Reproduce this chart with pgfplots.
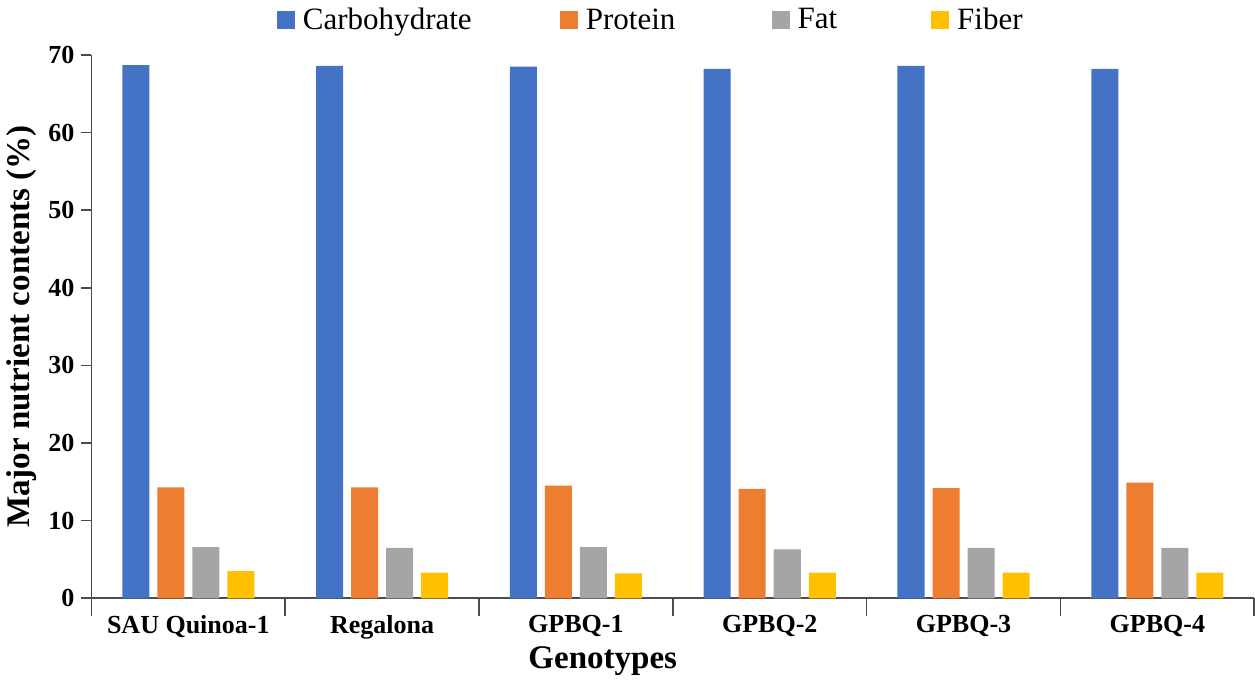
\documentclass[border=0pt]{standalone}
\usepackage{fontspec}
\setmainfont{Liberation Serif}
\usepackage{pgfplots}
\pgfplotsset{compat=1.18}
\definecolor{cCarb}{HTML}{4472C4}
\definecolor{cProt}{HTML}{ED7D31}
\definecolor{cFat}{HTML}{A5A5A5}
\definecolor{cFib}{HTML}{FFC000}
\begin{document}
\begin{tikzpicture}
\begin{axis}[
  scale only axis,
  width=581pt, height=271.5pt,
  ybar=4pt, bar width=13.5pt,
  axis x line=bottom, axis y line=left,
  axis line style={-, black!70, line width=0.8pt},
  xmin=0.5, xmax=6.5,
  ymin=0, ymax=70,
  ytick={0,10,...,70},
  xtick={1,...,6},
  xticklabels={SAU Quinoa-1,Regalona,GPBQ-1,GPBQ-2,GPBQ-3,GPBQ-4},
  minor xtick={0.5,1.5,...,6.5},
  major x tick style={draw=none},
  minor x tick style={black!70, line width=0.8pt},
  minor tick length=9pt,
  y tick style={black!70, line width=0.8pt},
  major tick length=5pt,
  tick align=outside,
  /pgf/number format/assume math mode=true,
  ticklabel style={font=\rmfamily\fontsize{13}{14}\selectfont\bfseries},
  xlabel={Genotypes},
  ylabel={Major nutrient contents (\%)},
  label style={font=\rmfamily\fontsize{16.5}{17}\selectfont\bfseries},
  xlabel style={yshift=3pt, xshift=-35pt},
  ylabel style={yshift=-1pt},
  legend columns=4,
  legend style={at={(0.5,1)}, anchor=south, yshift=7pt, xshift=-10.5pt, draw=none,
    font=\rmfamily\fontsize{15.5}{17}\selectfont},
  legend image code/.code={\fill[#1] (0pt,-4.5pt) rectangle (9pt,4.5pt);},
]
\addplot[draw=none, fill=cCarb] coordinates {(1,68.7) (2,68.6) (3,68.5) (4,68.2) (5,68.6) (6,68.2)};
\addplot[draw=none, fill=cProt] coordinates {(1,14.3) (2,14.3) (3,14.5) (4,14.1) (5,14.2) (6,14.9)};
\addplot[draw=none, fill=cFat] coordinates {(1,6.6) (2,6.5) (3,6.6) (4,6.3) (5,6.5) (6,6.5)};
\addplot[draw=none, fill=cFib] coordinates {(1,3.5) (2,3.3) (3,3.2) (4,3.3) (5,3.3) (6,3.3)};
\legend{\hspace*{2pt}Carbohydrate\hspace*{42pt},\hspace*{2pt}Protein\hspace*{46pt},\hspace*{2pt}Fat\hspace*{45pt},\hspace*{2pt}Fiber}
\end{axis}
\end{tikzpicture}
\end{document}
